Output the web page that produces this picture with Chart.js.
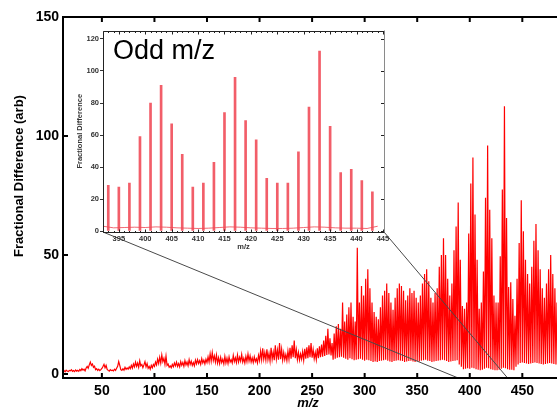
<!DOCTYPE html>
<html><head><meta charset="utf-8">
<script src="https://cdn.jsdelivr.net/npm/chart.js@4.4.0/dist/chart.umd.min.js"></script>
<style>
html,body{margin:0;padding:0;background:#fff;}
#wrap{position:relative;width:557px;height:410px;overflow:hidden;background:#fff;}
#main{position:absolute;left:0;top:0;}
#inset{position:absolute;left:60px;top:25px;}
</style></head><body>
<div id="wrap"><canvas id="main" width="557" height="410"></canvas><canvas id="inset" width="335" height="230"></canvas></div>
<script>
// ---------- data ----------
const mzFirst = 10;               // m/z of first intensity value
const intensity = [
// 10-19
1.2,1.0,1.5,1.1,1.4,0.9,1.6,1.2,1.0,1.5,
// 20-29
1.3,1.8,1.1,1.4,1.0,1.7,1.2,1.5,1.1,1.9,
// 30-39
1.4,2.2,1.6,2.0,1.3,2.5,3.2,2.4,3.8,5.0,
// 40-49
3.6,4.2,2.8,3.3,1.8,2.2,1.5,2.0,1.4,1.8,
// 50-59
2.3,3.1,4.0,2.6,3.6,1.9,1.5,1.2,1.8,1.4,
// 60-69
1.6,1.3,2.0,1.5,2.4,3.2,5.2,3.6,1.8,1.5,
// 70-79
2.2,1.6,2.8,1.9,2.5,2.0,3.0,2.2,3.6,2.4,
// 80-89
4.2,3.0,5.0,3.2,4.6,2.8,5.5,3.4,4.0,2.6,
// 90-99
3.8,5.2,3.0,4.4,2.4,3.2,2.0,3.6,2.6,4.0,
// 100-109
3.2,5.0,3.8,6.2,4.4,7.0,4.6,8.0,5.2,6.6,
// 110-119
4.0,7.5,3.6,4.2,2.8,3.4,2.6,4.0,3.0,4.6,
// 120-129
3.4,5.0,3.2,4.4,3.0,5.2,3.6,4.8,3.2,5.6,
// 130-139
3.8,5.0,3.4,6.0,4.0,5.4,3.6,4.8,3.4,5.8,
// 140-149
4.2,6.0,4.4,5.6,4.0,6.4,4.6,5.8,4.2,6.2,
// 150-159
4.8,7.2,5.0,8.5,5.4,9.0,5.6,7.6,5.0,8.0,
// 160-169
4.6,6.8,4.4,7.0,4.8,6.2,4.2,7.4,4.6,6.6,
// 170-179
4.4,7.2,5.0,6.0,4.6,7.8,5.2,6.8,4.8,8.0,
// 180-189
5.0,7.0,5.4,8.2,5.0,6.6,4.6,7.4,5.2,8.4,
// 190-199
5.4,7.6,5.0,6.8,4.8,7.2,5.2,6.4,4.6,7.8,
// 200-209
5.6,9.6,6.0,10.8,6.2,9.0,5.8,10.4,6.0,8.6,
// 210-219
5.4,11.0,6.2,9.2,5.8,12.0,6.4,10.0,6.0,13.0,
// 220-229
6.2,10.4,5.8,9.0,6.0,8.2,5.6,9.6,6.2,11.0,
// 230-239
6.4,12.0,7.0,14.0,6.6,10.2,6.0,9.0,5.8,8.4,
// 240-249
6.2,9.4,5.8,10.6,6.4,11.2,6.6,12.0,7.0,13.0,
// 250-259
6.8,10.2,6.4,9.0,6.0,10.8,6.6,11.6,7.0,12.4,
// 260-269
7.2,14.0,7.6,16.0,8.0,19.0,8.2,15.0,7.8,13.0,
// 270-279
6.0,17.0,6.4,20.0,6.8,21.0,7.0,19.0,7.2,30.0,
// 280-289
6.8,22.0,6.4,25.0,6.0,28.0,6.6,30.0,6.2,24.0,
// 290-299
5.8,22.0,6.0,53.0,6.2,30.0,6.4,37.0,6.0,33.0,
// 300-309
5.6,40.0,6.0,44.0,5.8,36.0,5.4,30.0,5.0,26.0,
// 310-319
5.2,24.0,5.0,23.0,5.4,28.0,5.6,33.0,5.8,35.0,
// 320-329
6.0,38.0,5.6,34.0,5.2,30.0,5.0,27.0,5.4,32.0,
// 330-339
5.6,36.0,5.8,38.0,5.6,37.0,5.4,35.0,5.0,31.0,
// 340-349
5.2,33.0,5.4,36.0,5.6,34.0,5.2,35.0,5.0,32.0,
// 350-359
5.4,30.0,5.2,33.0,5.6,38.0,5.8,42.0,6.0,44.0,
// 360-369
5.6,39.0,5.4,32.0,5.0,30.0,5.2,34.0,5.4,36.0,
// 370-379
5.6,45.0,5.8,50.0,6.0,57.0,5.8,50.0,5.4,40.0,
// 380-389
5.0,33.0,5.2,38.0,5.4,52.0,5.6,62.0,5.8,72.0,
// 390-399
4.0,48.0,3.0,28.5,2.0,27.4,2.2,30.0,2.4,59.0,
// 400-409
2.2,80.0,2.6,91.0,2.4,67.0,2.0,48.0,1.8,27.4,
// 410-419
1.6,30.0,1.8,43.0,2.2,74.0,2.6,96.0,2.4,69.0,
// 420-429
2.0,57.0,1.8,33.0,1.6,30.0,1.6,30.0,1.8,49.5,
// 430-439
2.2,77.5,2.6,112.5,2.4,65.5,2.0,36.5,1.8,38.5,
// 440-449
1.8,31.5,1.6,24.5,3.0,40.0,4.0,55.0,4.6,73.0,
// 450-459
4.8,60.0,4.6,48.0,4.4,42.0,4.2,38.0,4.4,45.0,
// 460-469
4.6,56.0,4.8,63.0,4.6,52.0,4.4,44.0,4.2,36.0,
// 470-479
4.0,32.0,4.2,38.0,4.4,44.0,4.6,50.0,4.4,42.0,
// 480-489
4.2,36.0,4.0,30.0,3.8,28.0,3.6,30.0,3.4,26.0
];
const mainXTicks = [50,100,150,200,250,300,350,400,450];
const mainYTicks = [0,50,100,150];
const insetXTicks = [395,400,405,410,415,420,425,430,435,440,445];
const insetYTicks = [0,20,40,60,80,100,120];
const insetRange = [392, 445.2];       // m/z window shown in the inset axis
const insetPeakRange = [393, 443];     // odd m/z peaks plotted in the inset
const zoomLinkMz = [389, 436];         // where the connector lines meet the main axis
const mainTitleY = 'Fractional Difference (arb)';
const mainTitleX = 'm/z';
const insetTitleY = 'Fractional Difference';
const insetTitleX = 'm/z';
const insetLabel = 'Odd m/z';

// ---------- derived series ----------
const mainPoints = intensity.map((v,i)=>({x: mzFirst+i, y: v}));
const insetPeaks = mainPoints.filter(p => p.x >= insetPeakRange[0] && p.x <= insetPeakRange[1] && p.x % 2 === 1);
const insetBase = mainPoints.filter(p => p.x >= insetRange[0] && p.x <= insetRange[1] && p.x % 2 === 0);

const FONT = '"Liberation Sans", Arial, Helvetica, sans-serif';
Chart.defaults.font.family = FONT;
const insetLeft = 60, insetTop = 25;

// ---------- inset ----------
const insetDecor = {
  id: 'insetDecor',
  beforeDatasetsDraw(chart){
    const {ctx, chartArea: ca} = chart;
    ctx.save(); ctx.fillStyle = '#fff';
    ctx.fillRect(ca.left, ca.top, ca.right-ca.left, ca.bottom-ca.top);
    ctx.restore();
  },
  afterDraw(chart){
    const {ctx, chartArea: ca, scales: {x, y}} = chart;
    ctx.save();
    ctx.lineWidth = 1;
    ctx.strokeStyle = '#8a8a8a';
    ctx.beginPath(); ctx.moveTo(Math.round(ca.right)+0.5, ca.top); ctx.lineTo(Math.round(ca.right)+0.5, ca.bottom); ctx.stroke();
    ctx.strokeStyle = '#222';
    ctx.beginPath();
    const L = Math.round(ca.left)+0.5, B = Math.round(ca.bottom)+0.5, T = Math.round(ca.top)+0.5;
    ctx.moveTo(L, T); ctx.lineTo(L, B); ctx.lineTo(ca.right, B);
    ctx.moveTo(L, T); ctx.lineTo(ca.right, T);
    ctx.stroke();
    ctx.beginPath();
    for (let v = Math.ceil(x.min); v <= x.max; v++) {
      const px = Math.round(x.getPixelForValue(v)) + 0.5;
      const len = (v % 5 === 0) ? 3 : 1.5;
      ctx.moveTo(px, B); ctx.lineTo(px, B - len);
      ctx.moveTo(px, T); ctx.lineTo(px, T + len);
    }
    insetYTicks.forEach(v => {
      const py = Math.round(y.getPixelForValue(v)) + 0.5;
      ctx.moveTo(ca.right, py); ctx.lineTo(ca.right - 3, py);
    });
    ctx.stroke();
    // texts
    ctx.fillStyle = '#333';
    ctx.textAlign = 'center'; ctx.textBaseline = 'middle';
    ctx.font = 'bold 7.5px ' + FONT;
    ctx.save(); ctx.translate(20, (ca.top+ca.bottom)/2); ctx.rotate(-Math.PI/2);
    ctx.fillText(insetTitleY, 0, 0); ctx.restore();
    ctx.fillText(insetTitleX, (ca.left+ca.right)/2, ca.bottom + 15);
    ctx.fillStyle = '#000';
    ctx.textAlign = 'left'; ctx.textBaseline = 'alphabetic';
    ctx.font = '27px ' + FONT;
    ctx.fillText(insetLabel, ca.left + 10, ca.top + 28);
    ctx.restore();
  }
};

const insetChart = new Chart(document.getElementById('inset'), {
  type: 'bar',
  data: { datasets: [
    { type: 'bar', data: insetPeaks, backgroundColor: 'rgba(240,72,84,0.88)', barThickness: 2, grouped: false, order: 1 },
    { type: 'line', data: insetBase, borderColor: 'rgba(240,90,100,0.9)', borderWidth: 1, pointRadius: 0, tension: 0, order: 2 }
  ]},
  options: {
    responsive: false, animation: false, devicePixelRatio: 1,
    layout: { padding: { top: 5, right: 11, left: 0, bottom: 0 } },
    plugins: { legend: { display: false }, tooltip: { enabled: false } },
    scales: {
      x: { type: 'linear', min: insetRange[0], max: insetRange[1], offset: false,
        afterBuildTicks: s => { s.ticks = insetXTicks.map(v => ({value: v})); },
        afterFit: s => { s.height = 23; },
        grid: { display: false, drawTicks: false }, border: { display: false },
        ticks: { font: { size: 7.5, weight: 'bold' }, color: '#333', padding: 2, maxRotation: 0, autoSkip: false } },
      y: { min: -0.6, max: 125.3,
        afterBuildTicks: s => { s.ticks = insetYTicks.map(v => ({value: v})); },
        afterFit: s => { s.width = 43; },
        grid: { display: true, drawOnChartArea: false, drawTicks: true, tickLength: 3, color: '#333' },
        border: { display: false },
        ticks: { font: { size: 7.5, weight: 'bold' }, color: '#333', padding: 1 } }
    }
  },
  plugins: [insetDecor]
});

// ---------- main ----------
const mainDecor = {
  id: 'mainDecor',
  afterDatasetsDraw(chart){
    const {ctx, chartArea: ca, scales: {x, y}} = chart;
    ctx.save();
    // connector lines from inset corners to the zoomed window on the main axis
    const ia = insetChart.chartArea;
    ctx.strokeStyle = '#4a4a4a'; ctx.lineWidth = 1;
    ctx.beginPath();
    ctx.moveTo(insetLeft + ia.left, insetTop + ia.bottom);
    ctx.lineTo(x.getPixelForValue(zoomLinkMz[0]), ca.bottom);
    ctx.moveTo(insetLeft + ia.right, insetTop + ia.bottom);
    ctx.lineTo(x.getPixelForValue(zoomLinkMz[1]), ca.bottom);
    ctx.stroke();
    // frame
    ctx.strokeStyle = '#000'; ctx.lineWidth = 2;
    ctx.beginPath();
    ctx.moveTo(ca.left, ca.bottom); ctx.lineTo(ca.left, ca.top); ctx.lineTo(ca.right, ca.top);
    ctx.moveTo(ca.left - 1, ca.bottom); ctx.lineTo(ca.right, ca.bottom);
    mainXTicks.forEach(v => {
      const px = x.getPixelForValue(v);
      ctx.moveTo(px, ca.bottom); ctx.lineTo(px, ca.bottom - 5);
      ctx.moveTo(px, ca.top); ctx.lineTo(px, ca.top + 5);
    });
    mainYTicks.forEach(v => {
      const py = y.getPixelForValue(v);
      ctx.moveTo(ca.left, py); ctx.lineTo(ca.left + 5, py);
    });
    ctx.stroke();
    // axis titles
    ctx.fillStyle = '#000'; ctx.textAlign = 'center'; ctx.textBaseline = 'middle';
    ctx.font = 'bold 13px ' + FONT;
    ctx.save(); ctx.translate(19, 176); ctx.rotate(-Math.PI/2);
    ctx.fillText(mainTitleY, 0, 0); ctx.restore();
    ctx.font = 'italic bold 13px ' + FONT;
    ctx.fillText(mainTitleX, 308, 403);
    ctx.restore();
  }
};

new Chart(document.getElementById('main'), {
  type: 'line',
  data: { datasets: [
    { data: mainPoints, borderColor: '#ff0000', borderWidth: 1.2, pointRadius: 0, tension: 0, fill: false }
  ]},
  options: {
    responsive: false, animation: false, devicePixelRatio: 1,
    layout: { padding: { top: 17, right: 0, left: 0, bottom: 0 } },
    plugins: { legend: { display: false }, tooltip: { enabled: false } },
    scales: {
      x: { type: 'linear', min: 13, max: 483,
        afterBuildTicks: s => { s.ticks = mainXTicks.map(v => ({value: v})); },
        afterFit: s => { s.height = 32; },
        grid: { display: false, drawTicks: false }, border: { display: false },
        ticks: { font: { size: 14, weight: 'bold' }, color: '#000', padding: 5, maxRotation: 0, autoSkip: false } },
      y: { type: 'linear', min: -1.7, max: 150,
        afterBuildTicks: s => { s.ticks = mainYTicks.map(v => ({value: v})); },
        afterFit: s => { s.width = 63; },
        grid: { display: false, drawTicks: false }, border: { display: false },
        ticks: { font: { size: 14, weight: 'bold' }, color: '#000', padding: 4 } }
    }
  },
  plugins: [mainDecor]
});
</script>
</body></html>
